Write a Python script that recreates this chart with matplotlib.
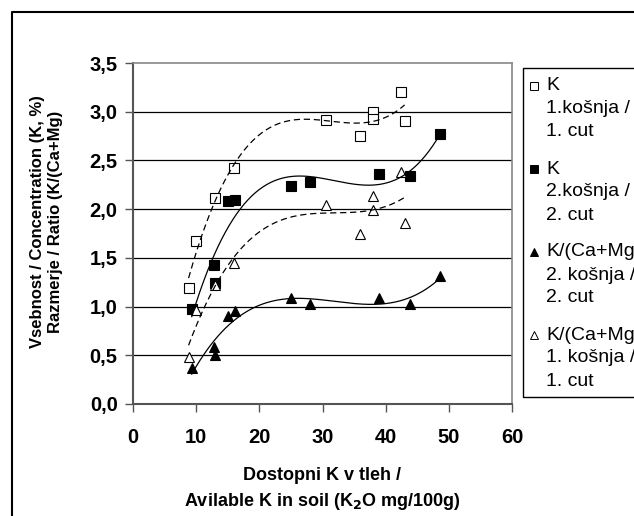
import numpy as np
import matplotlib
matplotlib.use("Agg")
from matplotlib import pyplot as plt
from matplotlib.lines import Line2D
from matplotlib.patches import Rectangle

plt.rcParams['font.family'] = ['Liberation Sans', 'DejaVu Sans']

# soil K (x) for the two cuts
x_cut1 = [8.8, 10.0, 13.0, 16.0, 30.6, 36.0, 38.0, 38.0, 42.4, 43.0]
x_cut2 = [9.3, 12.9, 13.0, 15.0, 16.1, 25.0, 28.0, 39.0, 43.9, 48.6]

# K concentration, 1. cut (open squares) / 2. cut (filled squares)
k_cut1 = [1.19, 1.67, 2.11, 2.42, 2.92, 2.75, 3.00, 2.93, 3.20, 2.90]
k_cut2 = [0.97, 1.43, 1.24, 2.08, 2.09, 2.24, 2.28, 2.36, 2.34, 2.77]

# K/(Ca+Mg) ratio, 2. cut (filled triangles) / 1. cut (open triangles)
r_cut2 = [0.37, 0.59, 0.50, 0.90, 0.95, 1.09, 1.03, 1.09, 1.03, 1.31]
r_cut1 = [0.48, 0.96, 1.22, 1.45, 2.04, 1.74, 2.14, 1.99, 2.38, 1.86]

labels = [["K", "1.košnja /", "1. cut"],
          ["K", "2.košnja /", "2. cut"],
          ["K/(Ca+Mg)", "2. košnja /", "2. cut"],
          ["K/(Ca+Mg)", "1. košnja /", "1. cut"]]

x_ticks = [0, 10, 20, 30, 40, 50, 60]
y_ticks = [0.0, 0.5, 1.0, 1.5, 2.0, 2.5, 3.0, 3.5]

series = [
    (x_cut1, k_cut1, 's', 'white', (0, (5, 3))),
    (x_cut2, k_cut2, 's', 'black', '-'),
    (x_cut2, r_cut2, '^', 'black', '-'),
    (x_cut1, r_cut1, '^', 'white', (0, (5, 3))),
]

W, H = 634, 516
fig = plt.figure(figsize=(W / 100, H / 100), dpi=100)
ax = fig.add_axes([133 / W, 1 - 404 / H, (512 - 133) / W, (404 - 63) / H])

for xs, ys, mk, fc, ls in series:
    ax.plot(xs, ys, linestyle='none', marker=mk, markersize=7.8,
            markerfacecolor=fc, markeredgecolor='black', markeredgewidth=0.8,
            zorder=3, clip_on=False)

# 3rd order trendlines
for xs, ys, mk, fc, ls in series:
    xs = np.array(xs)
    c = np.polyfit(xs, ys, 3)
    xx = np.linspace(xs.min(), xs.max(), 200)
    ax.plot(xx, np.polyval(c, xx), color='black', linestyle=ls, lw=0.9, zorder=4)

ax.set_xlim(0, 60)
ax.set_ylim(0, 3.5)
ax.set_xticks(x_ticks)
ax.set_yticks(y_ticks)
ax.set_xticklabels([str(t) for t in x_ticks])
ax.set_yticklabels([f"{t:.1f}".replace('.', ',') for t in y_ticks])
ax.tick_params(axis='both', labelsize=14.5, length=6, width=1, color='#555555')
ax.tick_params(axis='x', pad=11)
ax.tick_params(axis='y', pad=5)
for lab in ax.get_xticklabels() + ax.get_yticklabels():
    lab.set_fontweight('bold')

for y in y_ticks[1:-1]:
    ax.axhline(y, color='black', lw=0.9, zorder=1)

for side in ['top', 'right']:
    ax.spines[side].set_color('#888888')
    ax.spines[side].set_linewidth(1.2)
for side in ['left', 'bottom']:
    ax.spines[side].set_color('#555555')
    ax.spines[side].set_linewidth(1.5)

fig.text(47 / W, 1 - 222 / H,
         "Vsebnost / Concentration (K, %)\nRazmerje / Ratio (K/(Ca+Mg)",
         rotation=90, ha='center', va='center', fontsize=12,
         fontweight='bold', multialignment='center', linespacing=1.25)
fig.text(322 / W, 1 - 475 / H, "Dostopni K v tleh /",
         ha='center', va='center', fontsize=13, fontweight='bold')
fig.text(322 / W, 1 - 501 / H, "Avilable K in soil (K$_\\mathbf{2}$O mg/100g)",
         ha='center', va='center', fontsize=13, fontweight='bold')

# legend box running off the right edge
fig.patches.append(Rectangle((523 / W, 1 - 397 / H), 200 / W, (397 - 68) / H,
                             transform=fig.transFigure, fill=False,
                             edgecolor='black', lw=1.0))
for i, (xs, ys, mk, fc, ls) in enumerate(series):
    y0 = 86 + i * 83
    fig.lines.append(Line2D([534 / W], [1 - y0 / H], transform=fig.transFigure,
                            marker=mk, markersize=5.5, markerfacecolor=fc,
                            markeredgecolor='black', markeredgewidth=0.7))
    for j, line in enumerate(labels[i]):
        fig.text(546 / W, 1 - (y0 + j * 23) / H, line, ha='left', va='center',
                 fontsize=14)

# outer chart border
fig.lines.append(Line2D([12 / W, 12 / W, 1.0], [0.0, 1 - 12 / H, 1 - 12 / H],
                        transform=fig.transFigure, color='black', lw=1.5))

fig.savefig("out.png", dpi=100)
